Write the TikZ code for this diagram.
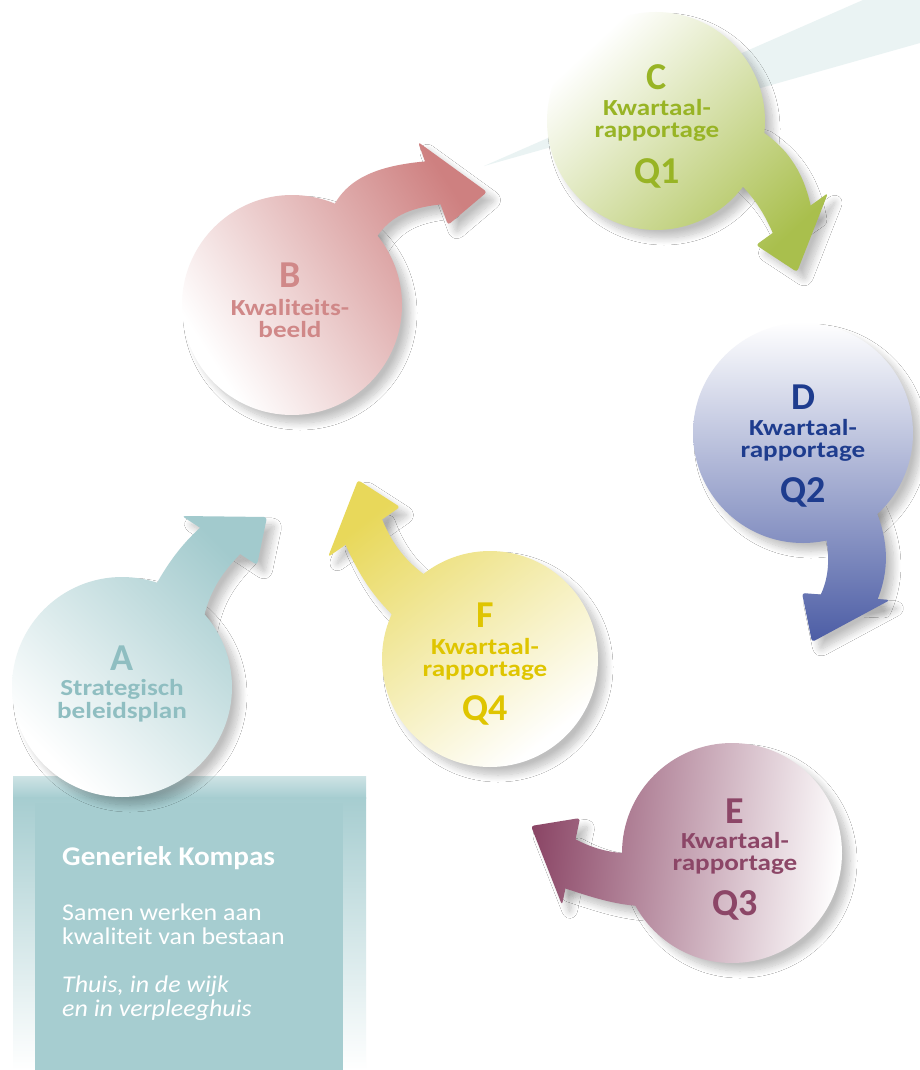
\documentclass[tikz,border=0pt]{standalone}
\usepackage{fontspec}
\setmainfont{Carlito}
\newfontfamily\lblfont[FakeStretch=1.18]{Carlito}
\newfontfamily\boxfont[FakeStretch=1.08]{Carlito}
\usetikzlibrary{shadows.blur}
\definecolor{boxteal}{HTML}{A6CDD0}
\definecolor{bandcol}{HTML}{EAF3F3}
\definecolor{tealT}{HTML}{8FBEC1}
\definecolor{tealA}{HTML}{A2CACD}
\definecolor{pinkT}{HTML}{D08888}
\definecolor{pinkA}{HTML}{CE8080}
\definecolor{greenT}{HTML}{98B425}
\definecolor{greenA}{HTML}{A9BF4D}
\definecolor{blueT}{HTML}{1E3C8E}
\definecolor{blueA}{HTML}{4A5BA4}
\definecolor{mauveT}{HTML}{8C4667}
\definecolor{mauveA}{HTML}{8B4666}
\definecolor{yellowT}{HTML}{DFC500}
\definecolor{yellowA}{HTML}{E8D85A}
\tikzset{
  gshadow/.style={blur shadow={shadow xshift=8pt, shadow yshift=-8pt, shadow blur radius=7pt, shadow blur steps=12, shadow opacity=25}},
  bigl/.style={anchor=base, inner sep=0pt, font=\bfseries\fontsize{38}{38}\selectfont},
  smalll/.style={anchor=base, inner sep=0pt, font=\lblfont\bfseries\fontsize{23}{23}\selectfont},
  boxbold/.style={anchor=base west, inner sep=0pt, text=white, font=\boxfont\bfseries\fontsize{27}{27}\selectfont},
  boxreg/.style={anchor=base west, inner sep=0pt, text=white, font=\boxfont\fontsize{24}{24}\selectfont},
  boxit/.style={anchor=base west, inner sep=0pt, text=white, font=\boxfont\itshape\fontsize{24}{24}\selectfont},
}
\newcommand\drawglyph[6]{%
  \path[gshadow] #1;
  \path[gshadow] #2;
  \path[gshadow, rounded corners=3pt] #3;
  \begin{scope}\clip #1; \shade[top color=#4, bottom color=white, shading angle=#5] #6;\end{scope}
  \begin{scope}\clip #2; \shade[top color=#4, bottom color=white, shading angle=#5] #6;\end{scope}
  \begin{scope}\clip[rounded corners=3pt] #3; \shade[top color=#4, bottom color=white, shading angle=#5] #6;\end{scope}
}
\begin{document}
\begin{tikzpicture}[x=1pt,y=-1pt]
\useasboundingbox (0,0) rectangle (920,1070);
\fill[white] (0,0) rectangle (920,1070);
% pale band
\fill[bandcol] (484,166) -- (920,-25) -- (920,43) -- cycle;
% box
\shade[top color=boxteal!55!white, bottom color=boxteal] (13,776) rectangle (366,798);
\shade[top color=boxteal, bottom color=white] (13,797) rectangle (366,1070);
\fill[boxteal] (35,803) rectangle (343,1070);
\node[boxbold] (title) at (62,865) {Generiek Kompas};
\node[boxreg] (sub1) at (62,920) {Samen werken aan};
\node[boxreg] (sub2) at (62,944) {kwaliteit van bestaan};
\node[boxit] (it1) at (62,992) {Thuis, in de wijk};
\node[boxit] (it2) at (62,1016) {en in verpleeghuis};
% B
\drawglyph{(292,305) circle[radius=110pt]}
 {(325,230) .. controls (335,185) and (365,166) .. (430,161) -- (445,204) .. controls (400,208) and (380,222) .. (365,260) -- cycle}
 {(418,142) -- (487,192) -- (448,225) -- cycle}
 {pinkA}{-57}{(180,140) rectangle (490,418)}
% C
\drawglyph{(656,121) circle[radius=109pt]}
 {(730,120) -- (760,130) .. controls (790,150) and (805,175) .. (812,212) -- (775,238) .. controls (765,215) and (755,195) .. (725,170) -- cycle}
 {(828,193) -- (797,272) -- (756,245) -- cycle}
 {greenA}{-137}{(545,10) rectangle (830,275)}
% D
\drawglyph{(803,433) circle[radius=110pt]}
 {(860,480) .. controls (885,520) and (895,560) .. (876,603) -- (818,600) .. controls (832,575) and (832,545) .. (815,500) -- cycle}
 {(890,600) -- (812,642) -- (802,593) -- cycle}
 {blueA}{180}{(692,322) rectangle (915,645)}
% E
\drawglyph{(732,853) circle[radius=110pt]}
 {(660,850) .. controls (620,858) and (595,850) .. (571,837) -- (561,887) .. controls (600,900) and (630,910) .. (670,905) -- cycle}
 {(580,818) -- (531,826) -- (562,905) -- cycle}
 {mauveA}{84}{(528,742) rectangle (845,965)}
% F
\drawglyph{(490,659) circle[radius=108pt]}
 {(380,514) .. controls (395,555) and (420,575) .. (450,590) -- (420,640) .. controls (385,610) and (365,590) .. (344,541) -- cycle}
 {(358,480) -- (400,507) -- (328,557) -- cycle}
 {yellowA}{38}{(326,478) rectangle (600,770)}
% A
\drawglyph{(122,687) circle[radius=110pt]}
 {(140,615) .. controls (160,575) and (175,550) .. (202,526) -- (242,552) .. controls (220,575) and (205,595) .. (200,640) -- cycle}
 {(182,516) -- (267,517) -- (257,565) -- cycle}
 {tealA}{-45}{(12,514) rectangle (270,800)}
% labels
\node[bigl, text=tealT] (A) at (122,670) {A};
\node[smalll, text=tealT] (A1) at (122,695) {Strategisch};
\node[smalll, text=tealT] (A2) at (122,718) {beleidsplan};
\node[bigl, text=pinkT] (B) at (290,287) {B};
\node[smalll, text=pinkT] (B1) at (290,315) {Kwaliteits-};
\node[smalll, text=pinkT] (B2) at (290,337) {beeld};
\node[bigl, text=greenT] (C) at (657,90) {C};
\node[smalll, text=greenT] (C1) at (657,116) {Kwartaal-};
\node[smalll, text=greenT] (C2) at (657,138) {rapportage};
\node[bigl, text=greenT] (C3) at (657,183) {Q1};
\node[bigl, text=blueT] (D) at (803,409) {D};
\node[smalll, text=blueT] (D1) at (803,435) {Kwartaal-};
\node[smalll, text=blueT] (D2) at (803,457) {rapportage};
\node[bigl, text=blueT] (D3) at (803,502) {Q2};
\node[bigl, text=mauveT] (E) at (735,823) {E};
\node[smalll, text=mauveT] (E1) at (735,848) {Kwartaal-};
\node[smalll, text=mauveT] (E2) at (735,870) {rapportage};
\node[bigl, text=mauveT] (E3) at (735,915) {Q3};
\node[bigl, text=yellowT] (F) at (485,627) {F};
\node[smalll, text=yellowT] (F1) at (485,654) {Kwartaal-};
\node[smalll, text=yellowT] (F2) at (485,676) {rapportage};
\node[bigl, text=yellowT] (F3) at (485,720) {Q4};
\end{tikzpicture}
\end{document}
